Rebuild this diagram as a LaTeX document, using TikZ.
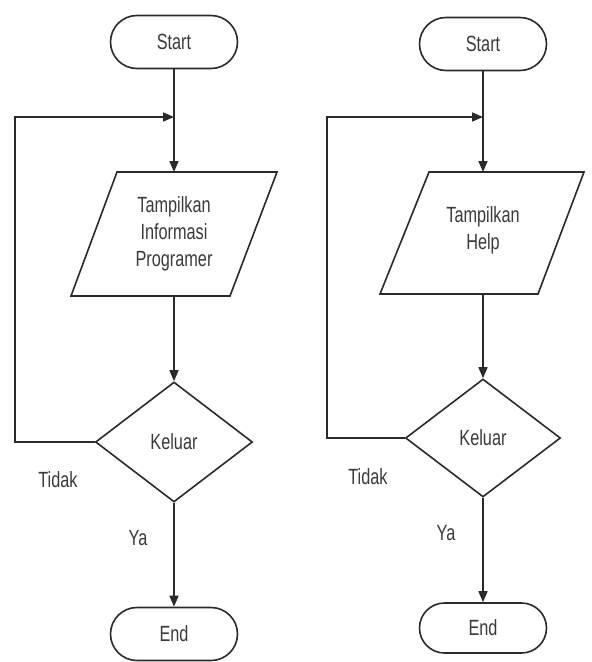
\documentclass[tikz,border=0pt]{standalone}
\usepackage{fontspec}
\newfontfamily\labfont[FakeStretch=0.74]{Liberation Sans}
\usetikzlibrary{shapes.misc,shapes.geometric,arrows.meta}
\definecolor{ink}{HTML}{2A2A2A}
\definecolor{txt}{HTML}{3A3A3A}
\tikzset{
  term/.style={draw=ink,line width=1.6pt,rounded rectangle,minimum width=127pt,minimum height=53pt,inner sep=0pt,font=\labfont\fontsize{22}{27}\selectfont,text=txt},
  dec/.style={draw=ink,line width=1.6pt,diamond,minimum width=157pt,minimum height=120pt,inner sep=0pt,aspect=1.3,font=\labfont\fontsize{22}{27}\selectfont,text=txt},
  para/.style={draw=ink,line width=1.6pt},
  lbl/.style={font=\labfont\fontsize{22}{27}\selectfont,text=txt,align=center,inner sep=0pt},
  conn/.style={draw=ink,line width=1.6pt},
  arr/.style={conn,-{Triangle[length=11pt,width=9pt]}}
}
\begin{document}
\begin{tikzpicture}[x=1pt,y=-1pt]
\useasboundingbox (0,0) rectangle (592,662);
% ---------- left flowchart ----------
\node[term] (s1) at (174,42) {Start};
\draw[para] (117,172) -- (277,172) -- (230,296) -- (71,296) -- cycle;
\coordinate (p1t) at (174,172);
\coordinate (p1b) at (174,296);
\node[lbl,text width=120pt] (p1) at (174,234) {Tampilkan\\Informasi\\Programer};
\node[dec] (d1) at (174,442) {Keluar};
\node[term] (e1) at (174,634) {End};
\coordinate (j1) at (174,117);
\coordinate (l1a) at (15,442);
\coordinate (l1b) at (15,117);
\draw[arr] (s1) -- (p1t);
\draw[arr] (p1b) -- (d1.north);
\draw[arr] (d1.west) -- (l1a) -- (l1b) -- (j1);
\draw[arr] (d1.south) -- (e1.north);
\node[lbl] (t1) at (58,480) {Tidak};
\node[lbl] (y1) at (138,538) {Ya};
% ---------- right flowchart ----------
\node[term] (s2) at (483,44) {Start};
\draw[para] (429,172) -- (584,172) -- (538,294) -- (380,294) -- cycle;
\coordinate (p2t) at (483,172);
\coordinate (p2b) at (483,294);
\node[lbl,text width=120pt] (p2) at (483,230) {Tampilkan\\Help};
\node[dec,minimum width=155pt,minimum height=118pt] (d2) at (483,438) {Keluar};
\node[term,minimum height=50pt] (e2) at (483,628) {End};
\coordinate (j2) at (483,117);
\coordinate (l2a) at (327,438);
\coordinate (l2b) at (327,117);
\draw[arr] (s2) -- (p2t);
\draw[arr] (p2b) -- (d2.north);
\draw[arr] (d2.west) -- (l2a) -- (l2b) -- (j2);
\draw[arr] (d2.south) -- (e2.north);
\node[lbl] (t2) at (368,477) {Tidak};
\node[lbl] (y2) at (446,533) {Ya};
\end{tikzpicture}
\end{document}
